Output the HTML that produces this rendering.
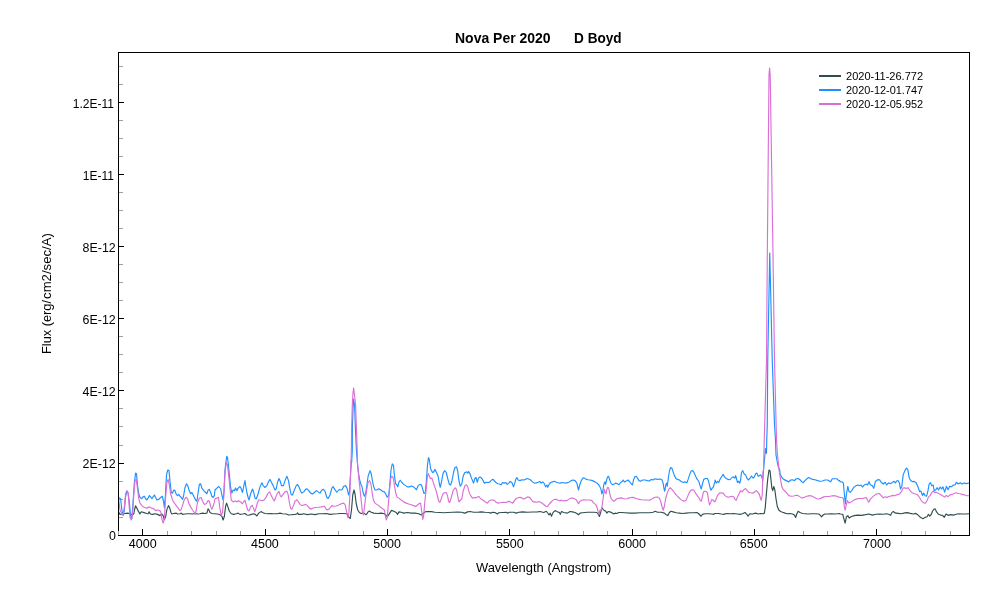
<!DOCTYPE html>
<html lang="en">
<head>
<meta charset="utf-8">
<title>Nova Per 2020 - D Boyd</title>
<style>
html,body{margin:0;padding:0;background:#fff;}
body{width:1000px;height:600px;overflow:hidden;font-family:"Liberation Sans",sans-serif;}
svg{display:block}
text{font-family:"Liberation Sans",sans-serif;fill:#000}
.tick text{font-size:12.5px}
.tick text.yt{font-size:12px}
.ttl{font-size:14px;font-weight:bold}
.ax{font-size:13px}
.lg text{font-size:11.3px}
.crv path{fill:none;stroke-width:1.15;stroke-linejoin:round;stroke-linecap:round}
</style>
</head>
<body>
<svg width="1000" height="600" viewBox="0 0 1000 600">
<rect x="0" y="0" width="1000" height="600" fill="#fff"/>
<path d="M167.5 531V535M191.5 531V535M216.5 531V535M240.5 531V535M289.5 531V535M314.5 531V535M338.5 531V535M363.5 531V535M411.5 531V535M436.5 531V535M460.5 531V535M485.5 531V535M534.5 531V535M558.5 531V535M583.5 531V535M607.5 531V535M656.5 531V535M681.5 531V535M705.5 531V535M730.5 531V535M779.5 531V535M803.5 531V535M827.5 531V535M852.5 531V535M901.5 531V535M925.5 531V535M950.5 531V535M119 517.5H123M119 499.5H123M119 481.5H123M119 445.5H123M119 426.5H123M119 408.5H123M119 372.5H123M119 354.5H123M119 336.5H123M119 300.5H123M119 282.5H123M119 264.5H123M119 228.5H123M119 210.5H123M119 192.5H123M119 156.5H123M119 138.5H123M119 120.5H123M119 84.5H123M119 66.5H123" stroke="#a0a0a0" stroke-width="1" fill="none" shape-rendering="crispEdges"/>
<path d="M142.5 529V535M265.5 529V535M387.5 529V535M509.5 529V535M632.5 529V535M754.5 529V535M876.5 529V535M119 463.5H124M119 390.5H124M119 318.5H124M119 246.5H124M119 174.5H124M119 102.5H124" stroke="#000" stroke-width="1" fill="none" shape-rendering="crispEdges"/>
<g class="crv">
<path stroke="#2F4F4F" d="M118.75 511.88 L119 512.5 L120 514.38 L122.5 514 L125 513.5 L127.5 513.12 L130 513.75 L132.5 514.75 L133.8 513.75 L134.7 509 L135.6 505.75 L137.1 508.75 L138.6 511.62 L139.9 513.88 L141.3 511.75 L144 512.62 L146.7 513.5 L148.12 513.75 L149.1 511.88 L150.25 513.75 L151.2 514.12 L152.5 514.38 L155 513.75 L157.5 514.38 L160 515.62 L161.88 514 L163.12 515.62 L164.38 519.75 L165.62 516.88 L166.88 509.38 L168.5 505.62 L169.75 508.12 L171 512.5 L171.88 514 L173.75 513.5 L176.25 513.12 L177.5 514 L180 513.75 L181.25 513.12 L182.5 514.38 L185 514 L187.5 513.75 L190 513.75 L192.5 514 L195 513.5 L197.5 514 L200 513.75 L202.5 513.12 L205 513.5 L206.88 513.12 L208.12 508.75 L209 510 L210 512.5 L211.88 513.5 L214.38 513.75 L215 513.75 L217.5 514 L220 514.75 L221.88 516.25 L223.12 520 L224.38 516.25 L225.62 506.25 L226.62 503.12 L227.88 506.88 L229.38 511.25 L231.25 513.75 L233.75 514.38 L236.25 513.75 L238.12 513.12 L240 514.38 L242.5 514 L245 513.5 L246.88 515 L248.75 515.25 L251.25 514.38 L253.75 513.75 L255.25 514.38 L256.88 516 L258.75 513.12 L261 511.62 L262.5 512.5 L265 513.5 L267.5 513.75 L270 513.5 L273.75 513.75 L277.5 513.75 L280 513.12 L282.5 513.75 L286.25 514 L288.75 515 L291.25 514.75 L295 514.38 L296.88 514 L297.5 512.75 L298.5 514.38 L301.25 514.38 L303.75 513.75 L307.5 514.62 L311.25 514 L315 514.62 L318.75 513.75 L322.5 513.75 L326.25 513.5 L330 514.38 L333.75 514 L337.5 513.75 L339.38 513.5 L340 513.5 L343.75 513.5 L346.88 513.75 L348.75 516.88 L350.25 518.5 L351.5 510 L352.75 495 L354 490 L355 493.75 L356.25 503.75 L357.75 510 L359.38 512.5 L361.25 513.5 L363.75 513.12 L366.25 514.75 L368.12 511.88 L369.38 511 L371.25 512.25 L373.75 513.12 L377.5 513.5 L381.25 513.12 L384.38 513.75 L386.88 516.25 L388.12 515.62 L389.75 513.12 L391.5 510.38 L393.75 511.25 L396.25 512.5 L397.5 514.38 L399 511.88 L401.25 512.25 L403.75 513.12 L407.5 512.5 L411.25 513.12 L415 513.12 L418.75 513.75 L421.25 515 L423.12 513.5 L425 511.88 L427.5 511.5 L431.25 511.62 L435 512.25 L440 512.5 L443.75 512.75 L447.5 512.5 L452.5 512.25 L457.5 512 L461.88 512.25 L464.38 513.12 L465 513.12 L467.5 511.88 L470 511.5 L473.75 512.25 L477.5 512.25 L481.25 511.88 L485 512.25 L488.75 512.5 L490.62 513.12 L492.5 512.25 L495 512.5 L497.25 514 L498.75 512.75 L502.5 512.5 L506.25 512.25 L507.5 513.12 L509.38 512.25 L513.75 512.25 L516.25 513.12 L518.75 512.25 L522.5 511.88 L527.5 512.25 L532.5 512 L537.5 511.88 L540 511.5 L543.75 512.5 L546.25 511.25 L547.5 512.75 L549 515 L550.25 513.12 L551.5 516.25 L552.75 513.12 L554 511.5 L555.62 510.62 L557.5 511.88 L559.38 512.5 L560.25 514.38 L561.5 511.5 L563.75 512.5 L567.5 513.12 L570 511.5 L572.5 511.88 L575 512.5 L576.88 513.5 L578.5 514.75 L580 513.12 L582.5 512.75 L585 512.5 L587.5 512.25 L589.38 512.25 L590 512.25 L593.75 512.25 L596.88 512.5 L598.12 514 L599.38 516.5 L600.62 512.5 L601.88 507.75 L603.12 509.38 L604.38 510.62 L605.62 511 L606.88 513.12 L608.12 511.5 L610 511.88 L611.88 512.75 L613.75 514 L615 513.12 L616.88 513.5 L618.75 512.5 L621.25 512.5 L625 512.75 L630 513.12 L635 513.12 L640 512.75 L645 512.75 L650 512.75 L653.12 512.25 L655.25 511.25 L657.5 512.25 L661.25 512.25 L664.38 513.12 L666.25 514.75 L667.75 515.62 L669.38 512.5 L671 511.25 L673.12 511.88 L676.25 512.75 L679.38 513.12 L682.5 513.5 L686.25 513.12 L690 512.75 L693.75 512.75 L696.88 512.5 L698.75 513.75 L701 516.25 L702.5 514.38 L705 513.75 L708.75 513.75 L711.88 514 L713.75 514.38 L714.75 513.5 L715 513.5 L718.75 513.5 L721.25 514 L723.75 514.38 L726.25 513.5 L730 513.75 L733.75 513.5 L737.5 514 L740 514.38 L742.5 513.75 L745 512.5 L746.88 514.38 L748.12 516.25 L749.75 513.75 L752.5 514 L755.62 513.12 L758.12 514 L760.62 513.5 L763.12 513.75 L764.38 513.12 L765.25 507.5 L766.5 492.5 L767.75 478.75 L769 470 L770 470.62 L771 480 L771.88 488.12 L772.75 490.62 L773.75 486.5 L774.75 489.38 L776 498.75 L777.25 506.25 L778.75 510 L780.62 511.5 L782.5 512.25 L785 513.12 L787.5 513.75 L790 513.5 L792.5 514 L794.38 515 L795.62 517.5 L796.88 513.75 L798.12 511.25 L800 512.5 L802.5 513.5 L805 513.75 L808.12 514 L811.25 513.75 L815 513.75 L818.75 514 L820.62 515.62 L821.5 516.88 L823.12 515 L825 514 L827.5 514 L831.25 513.75 L835 514 L839.75 513.5 L840 514 L842.7 514.27 L844.05 519.4 L845.13 523.18 L846.48 516.7 L847.83 515.62 L849.18 518.05 L851.48 516.43 L854.18 515.62 L857.55 515.08 L861.6 515.35 L865.65 514.68 L869.03 514 L872.4 515.08 L875.78 514.27 L879.15 514 L883.2 514.27 L886.58 513.73 L888.6 514.27 L890.63 515.35 L891.98 512.38 L893.33 511.57 L895.08 512.92 L898.05 513.33 L901.43 513.73 L904.8 512.92 L907.5 512.65 L910.2 513.33 L913.58 514 L915.6 513.33 L917.63 514.68 L919.65 516.7 L921.68 518.05 L923.03 518.73 L925.05 517.38 L927.08 516.7 L928.43 514.27 L929.78 516.03 L931.13 514.68 L932.48 511.3 L933.83 509.28 L935.18 508.87 L936.53 511.98 L938.56 514.27 L940.58 515.08 L942.61 515.35 L944.23 517.38 L945.98 514 L948.01 515.35 L950.71 514.68 L953.41 515.08 L956.11 514.27 L958.81 513.73 L961.51 514 L965.56 514 L969.2 513.73"/>
<path stroke="#1E90FF" d="M118.75 497.5 L120.62 498.75 L121.88 510 L123.12 515.62 L124.38 510 L125.62 496.25 L126.88 491.25 L128.12 493.12 L129.38 502.5 L130.62 516.25 L131.88 518.75 L133.12 501.25 L134.38 482.5 L135.62 473.12 L136.5 473.75 L137.5 485 L138.75 493.75 L140 497.5 L141.88 498.75 L143.12 496.88 L144.38 496.25 L145.62 498.75 L146.88 500 L148.12 498.12 L149.38 495.62 L150.62 496.88 L151.88 498.75 L153.12 496.88 L154.38 495 L155.62 497.5 L156.88 500 L158.75 499.38 L160.62 497.5 L162.25 496.25 L163.5 501.25 L164.38 507.5 L165.25 497.5 L166.5 475 L167.75 470 L169 470.62 L170 481.25 L171.25 492.5 L172.5 493.12 L173.75 490 L175 490.62 L176.25 494.38 L177.5 495.62 L178.75 494.38 L180 496.25 L181.25 497.5 L182.5 499.38 L183.5 496.25 L185 487.5 L186.5 483.75 L187.75 485.62 L189 490 L190.62 493.75 L191.88 492.5 L193.12 495 L194.38 497.5 L195.62 500 L196.88 501.25 L198.12 492.5 L199.38 484.38 L200.62 483.75 L201.88 488.12 L203.75 490.62 L205.62 492.5 L206.88 493.75 L208.12 490 L209.38 489.38 L210.62 492.5 L211.88 496.25 L213.12 497.5 L214.38 495.62 L215 490 L216.88 488.12 L218.75 486.5 L220.62 488.75 L221.88 495 L223.12 500 L224 491.25 L225 470 L226 461.25 L226.75 456.25 L227.5 457.5 L228.12 462.5 L229.38 475 L230.62 487.5 L231.88 493.12 L233.12 490 L234.38 490.62 L235.62 488.12 L236.88 490.62 L238.12 488.12 L240 486.5 L241.25 488.75 L242.5 492.5 L244 485 L245 480.62 L245.75 486.25 L246.88 492.5 L248.12 497.5 L249 500 L250.62 493.75 L252.5 489 L253.75 492.5 L255 498.12 L256.25 499 L258.12 493.75 L260 486.88 L261.88 482.75 L263.12 485.62 L265 487.5 L266.88 485.62 L268.75 481.25 L270 479.38 L271.5 482.5 L273.12 485.62 L275 490 L276.25 488.75 L277.5 482.5 L279 478.5 L280.25 481.25 L281.5 485.62 L283.5 485.62 L285 480.62 L286.88 476.25 L288.5 480.62 L289.75 488.12 L291.25 495 L292.5 495 L294.38 490 L296.25 485.62 L297.5 484.38 L299 486.88 L300.62 491.25 L301.88 493.12 L303.75 491.88 L305.62 489.38 L306.88 488.75 L308.75 490.62 L310.62 493.12 L312.5 494 L314.38 492.5 L316.25 490.62 L318.12 491.88 L320 493.12 L321.88 490 L323.5 489.38 L325 491.25 L326.88 497.5 L328.12 498.5 L330 495 L331.88 488.12 L333.12 486.5 L334.75 489.38 L336.88 492.25 L338.75 490 L339.75 489.38 L340 489.75 L341.88 490 L343.75 486.25 L345.62 485.62 L347.25 488.75 L348.5 495 L349.38 492.5 L350.62 472.5 L351.5 460 L351.7 462 L352.3 450 L352.4 428 L353 410 L353.6 399 L354.6 406 L355.4 428 L356.4 450 L357.2 460 L357.25 461.25 L358.12 470 L359.38 478.75 L360.62 483.75 L361.88 486.25 L363.12 492.5 L364.38 496.25 L365.62 493.75 L366.88 485 L368.12 476.25 L370 470.62 L371.25 473.75 L372.5 481.25 L373.75 486.88 L375 490 L376.88 490 L378.75 488.75 L380.62 489.75 L382.5 491.25 L384.38 491.88 L385.62 493.75 L387.25 497.25 L388.75 495 L389.75 485 L391 470 L392.25 463.75 L393.5 465.62 L394.38 475 L395.62 483.75 L396.88 485 L397.75 486.88 L399 481.88 L400.25 480.25 L401.88 482.5 L403.75 484.38 L405.62 485.62 L407.5 486.88 L409.38 486.88 L411.25 486 L413.12 486.5 L415 488.12 L416.5 489.75 L418.12 485.62 L420 484.38 L421.5 485 L422.75 489.38 L424 493.5 L425.25 492.75 L426.25 482.5 L427.5 465 L428.5 457.5 L429.38 460 L430.62 468.75 L432.5 472.5 L433.75 471.88 L435 469.38 L436.5 472.5 L438.12 476.25 L439.38 483.75 L440.25 487.25 L441.5 481.88 L443.12 473.12 L444.75 470.62 L446.25 472.5 L447.75 478.75 L449.38 484.38 L450.62 485 L451.88 481.25 L453.5 472.5 L455 467.5 L456.5 466.88 L457.75 471.25 L459 481.25 L460.25 486.25 L461.88 483.75 L463.12 476.25 L464.75 472.5 L465 472.5 L466.88 471.88 L467.75 473.12 L468.75 471.5 L470 473.75 L471.25 477.5 L472.5 480.62 L473.5 483.12 L474.75 478.75 L476 477.5 L477.25 482.25 L478.5 478.12 L480 476.88 L481.88 478.5 L483.12 480.62 L484.38 483.12 L486.25 482.25 L488.12 482.5 L490 481.88 L491.5 480 L493.12 479.38 L494.75 481.25 L496.25 482.75 L497.75 483.75 L499.38 484 L501.25 484.75 L502.5 482.5 L504 483.12 L505.62 482.5 L507.25 484.38 L508.75 483.12 L510.25 481.5 L511.88 482.5 L513.5 486.88 L514.75 483.12 L516 478.75 L516.88 477.5 L518.12 480 L520 480.62 L521.88 479.75 L523.75 480 L525.62 479.38 L526.88 478.5 L528.75 479 L530.62 480 L532.5 481.88 L534.38 483.12 L536.25 482.88 L538.12 482.25 L539.75 481.5 L541.25 483.12 L542.75 481.88 L544 483.12 L545.62 486.88 L546.88 485 L547.75 487.25 L549 484.38 L550.62 482.5 L552.5 481.88 L554.38 481.25 L556.25 482.25 L558.12 482.75 L560 483.12 L561.88 482.5 L563.75 482.75 L566.25 483.12 L568.75 482.25 L571.25 480.62 L573.12 480 L575 480.62 L576.88 483.12 L577.75 486.88 L578.5 490 L579.75 485 L581.25 480.62 L583.12 477.75 L584.38 478.12 L586.25 479.38 L588.12 479.75 L589.75 480 L590 480 L592.5 480.62 L595 481.88 L597.5 483.5 L599.38 485.62 L601 489.38 L601.88 494 L602.75 491.25 L604 483.75 L605 481.88 L605.62 484.38 L606.5 480.62 L607.5 476.88 L608.5 476.25 L609.38 478.75 L610.62 482.5 L612.25 484.75 L613.75 484.38 L615.62 483.12 L617.5 483.75 L619 484.75 L620.62 482.5 L622.25 481.5 L623.12 480 L624.38 481.88 L626.25 481 L628.12 480 L629.75 481.88 L631.25 483.75 L632.5 485 L633.5 480 L634.75 476.88 L636.25 476.25 L637.5 478.12 L639 480.62 L640.62 481.25 L642.5 480 L645 480 L647.5 480.62 L649.38 481 L651.25 479.38 L653.12 480 L655 478.75 L657.5 479.38 L660 479 L661.88 479.75 L663.12 483.12 L664 488.75 L664.75 491.25 L665.75 485 L666.5 483.12 L667.25 486.25 L668.25 478.75 L669.38 471.25 L670.62 467.5 L671.88 468.12 L673.12 471.88 L674.38 475.62 L676 478.5 L677.5 479.38 L679.38 480 L681.25 481.5 L683.12 482.5 L685 481.88 L686.88 482.75 L688.12 479.38 L689.75 474.38 L691.25 471 L692.75 470.62 L694 472.5 L695.62 476.25 L697.25 479.38 L698.75 481.25 L700 485.62 L701.25 489 L702.5 483.75 L703.75 479.38 L705.62 478.5 L707.5 478.5 L708.75 481.88 L710 487.5 L711 490.25 L712.25 488.12 L713.5 486.88 L714.38 483.12 L714.88 481.88 L715 480 L716.25 483.12 L717.5 481.25 L718.75 482.5 L720 479.38 L721.88 476.25 L723.12 474.38 L724.38 476.88 L726.25 478.5 L728.12 479.38 L730 479.75 L731.88 477.5 L733.5 476.88 L734.75 478.12 L735.62 475.62 L736.5 478.75 L737.5 482.5 L738.75 481.25 L739.75 483.12 L740.62 480 L741.5 472.5 L742.75 470.62 L744 473.75 L745.62 475 L746.88 478.12 L748.5 480 L750 478.12 L751.5 476 L753.12 478.12 L754.38 476.88 L755.62 473.75 L756.88 473.12 L758.12 476.25 L759.38 475.62 L760.62 474.75 L761.88 476.88 L762.75 480.62 L763.5 470 L764.25 462 L765.5 448.5 L766.5 453.5 L766.75 440 L767.25 425 L767.75 360 L769.75 253 L772.25 360 L774.5 425 L775.5 440 L776 455 L778 466 L779.75 470 L780 473.75 L781.88 477.5 L783.75 479.38 L786.25 480.62 L788.75 481.88 L790.62 480 L792.5 479.75 L794.38 480.62 L796.25 478.75 L798.12 478.5 L800 479.75 L801.88 481.88 L803.12 482.75 L805 480.62 L806.88 478.75 L808.75 477.5 L810.62 478.5 L812.5 479.38 L815 479.75 L817.5 480.62 L820 481.25 L822.5 481 L825 480 L827.5 480 L829.38 481 L830.62 481.88 L832.25 478.75 L834.38 478.75 L836.88 478.75 L838.75 480.62 L839.75 480.62 L840 481.6 L842.03 481.87 L843.38 482.95 L844.32 493.75 L845.4 503.88 L846.48 493.75 L847.83 486.33 L848.78 491.05 L850.13 492.4 L851.88 490.38 L853.5 487.68 L855.53 485.92 L857.55 484.98 L859.58 485.65 L860.93 484.98 L862.28 487 L864.3 484.98 L866.33 484.03 L867.68 484.98 L869.03 481.6 L870.38 484.98 L872.4 485.65 L873.75 488.35 L875.37 481.6 L877.13 479.98 L878.48 479.58 L879.83 479.98 L881.18 482.28 L883.2 484.03 L885.23 482.28 L886.58 484.98 L888.6 482.95 L890.63 483.63 L892.65 482.28 L894 481.33 L895.35 482.95 L896.7 480.93 L898.05 480.52 L899.4 482.95 L900.48 489.03 L901.83 486.33 L903.18 474.85 L904.8 470.8 L906.42 468.1 L907.77 469.45 L909.12 477.55 L910.47 480.25 L912.23 481.6 L914.25 481.33 L916.28 482.95 L918.03 487 L919.65 491.73 L921 491.05 L922.35 495.37 L923.7 493.08 L925.05 495.78 L926.67 496.18 L928.02 490.38 L929.1 484.3 L930.45 482.68 L931.81 485.65 L933.16 484.98 L934.24 490.78 L935.86 489.7 L937.21 487.68 L938.56 489.97 L940.18 487 L941.53 489.03 L942.88 486.73 L944.63 492.13 L946.39 486.33 L948.01 489.7 L949.63 486.33 L951.38 486.73 L953.41 484.98 L955.03 484.98 L956.38 482.28 L958.13 484.03 L960.16 482.68 L962.18 484.03 L964.21 482.95 L966.23 483.63 L969.2 482.95"/>
<path stroke="#DA70D6" d="M118.75 500 L120 510 L121.88 513.75 L123.12 515 L124.38 506.25 L125.62 493.75 L126.88 490.62 L128.12 492.5 L129 503.75 L130 517.5 L131.25 520 L132.5 515 L133.75 495 L135 480.62 L136.25 479.38 L137.5 488.75 L138.75 498.75 L140 503.12 L141.88 505.62 L144.38 507.5 L146.88 508.12 L149.38 506.88 L151.25 508.12 L153.75 508.75 L155.62 510.62 L157.5 510 L159.38 510.62 L160.62 511.25 L161.88 518.75 L163.12 523.12 L164.38 518.75 L165.62 497.5 L166.88 482.5 L168.12 479.38 L169.38 485 L170.62 493.75 L172.5 500 L174.38 503.12 L176.25 505.62 L178.12 508.12 L180 510.62 L181.25 509.38 L182.5 505.62 L184.38 499.38 L186.25 497.25 L187.5 498.75 L188.75 503.12 L190.62 506.88 L192.5 510 L194.38 512.5 L195.25 514.38 L196.25 510 L197.5 502.5 L199.38 498.12 L201.25 497.5 L202.5 501.25 L204.38 504.38 L206.25 503.75 L208.12 500.62 L209.38 501.25 L210.62 506.25 L211.88 509.38 L213.12 506.25 L214.38 501.88 L215 498.75 L216.88 498.12 L218.5 497.25 L219.75 507.5 L221.25 515.62 L222.5 512.5 L223.75 497.5 L225 472.5 L226.25 462.5 L227.5 465 L228.75 476.25 L230 488.75 L231.25 500 L233.12 501.88 L235 501 L236.88 501.88 L238.12 500.62 L239.38 501.25 L241.25 502.5 L242.5 503.75 L244 501.25 L245 500.25 L246.25 505 L247.75 510 L249 511 L250.62 506.88 L252.25 505.25 L253.5 508.12 L254.75 511.88 L256 508.12 L257.5 502.5 L259 499.75 L260.62 500.25 L262.5 500.62 L264.38 499.75 L266.25 496.88 L268.12 493.12 L269.75 491.88 L271 495 L272.5 498.12 L274.38 501 L275.62 497.5 L277.5 493.12 L279 491.5 L280.25 495.62 L281.25 496.88 L283.12 494.38 L285 491.88 L286.88 491.25 L288.12 494.38 L289.38 502.5 L290.62 508.12 L291.88 509.38 L293.5 505.62 L295 501.25 L296.88 499.75 L298.5 501.88 L300 504.38 L301.88 505.62 L303.75 505 L305.62 504.38 L307.5 505.62 L309.38 508.12 L311.25 509.12 L313.75 507.75 L316.25 507.5 L318.75 507.25 L321.25 506.88 L324.38 506.25 L326.25 509.38 L327.5 510 L329.38 508.75 L331.88 505.62 L333.75 506.25 L336.25 506 L338.75 505 L339.75 504.38 L340 504.38 L341.88 503.5 L343.75 503.12 L345.25 505 L346.5 511.25 L347.75 517.75 L348.75 515 L349.75 497.5 L350.62 472.5 L351 460 L351 462 L351.4 450 L351.6 428 L352.3 405 L353 393 L353.6 388 L354.3 393 L355.6 405 L356.4 428 L357.2 450 L357.5 460 L357.38 461.25 L357.75 466.25 L358.75 477.5 L360 488.75 L361.25 501.25 L362.5 512.5 L363.5 515 L364.38 507.5 L365.62 497.5 L366.88 488.75 L368.12 482.5 L369.62 480.62 L370.88 483.75 L372.12 492.5 L373.38 500 L375 503.12 L376.88 504.38 L378.75 505.62 L380.62 507.25 L382.5 508.75 L384.38 510 L385.25 515 L386.25 520 L387.25 517.5 L388.12 507.5 L389.38 491.25 L390.62 478.75 L391.88 476.25 L393.12 477.5 L394.38 485 L395.62 492.5 L396.88 496.88 L398.75 498.12 L401.25 500 L403.75 501.88 L406.25 503.12 L408.75 504 L411.25 504.75 L413.75 505.62 L415.62 506.5 L417.5 505 L419.38 503.5 L420.62 503.12 L421.5 510 L422.75 519.38 L423.75 515 L424.75 502.5 L426 491.25 L427.25 477.5 L428.25 473.5 L429.38 476.25 L430.62 478.75 L431.88 478.12 L433.12 481.88 L434.75 486.88 L436.25 491.25 L437.5 496.25 L438.75 501.25 L439.75 502.5 L441.25 498.75 L442.75 494.38 L444.38 492.75 L446.25 492.5 L447.5 495.62 L448.75 501.88 L449.75 502.5 L451.25 497.5 L453.12 490.62 L455 487.75 L456.5 489.38 L457.75 496.25 L459 501.88 L460.62 500 L461.88 498.75 L463.12 491.25 L464.75 486.25 L465 485.62 L466.5 484.75 L467.75 486.88 L469 491.88 L470.62 495.62 L472.5 498.12 L474.38 497.5 L476.25 497.88 L477.5 496.88 L479 496.5 L480.62 498.75 L482.5 499.75 L484.38 501.25 L486.25 502.5 L487.5 503.12 L489 501 L490.62 500.25 L492.5 499.75 L494.38 500.62 L496.25 502.25 L498.12 503.12 L500 502.75 L501.88 502.5 L503.75 502.25 L505.62 502.5 L507.5 501.88 L509.38 501.25 L511.25 502.5 L512.75 503.12 L514.38 500.62 L516.25 498.5 L518.12 497.75 L520 497.25 L521.88 498.12 L523.75 499 L525.62 498.12 L527.5 496.88 L529.38 497.25 L531.25 499.38 L533.12 501.88 L535 501.88 L536.88 502.25 L538.75 501.5 L540.62 502.25 L542.5 503.5 L544.38 505 L546 506.25 L547.5 506.5 L549 504.38 L550.62 502.5 L552.5 500.62 L554.38 499.38 L556.25 499.38 L558.12 500.25 L560 501 L561.25 500 L563.12 501 L565 500.62 L566.88 500.62 L568.75 499.38 L570.62 498.12 L572.5 498.12 L574.38 498.75 L576.25 499.75 L577.5 501.88 L578.5 503.75 L580 501.25 L581.88 500.25 L583.75 499.75 L585.62 500 L587.5 500 L589.75 500 L590 500 L591.88 500.62 L593.75 503.12 L595.62 504.38 L596.88 506.88 L598.12 511.88 L599 514.38 L600 510 L601 511.25 L601.88 507.5 L602.75 501.25 L603.75 493.75 L604.38 489.38 L605.25 492.5 L606 493.75 L606.88 489.38 L607.75 487.25 L608.75 488.12 L609.75 493.75 L611 498.12 L612.5 500.25 L614 501.25 L615.62 499.75 L617.5 498.5 L619.38 498.12 L621.25 497.88 L623.12 498.5 L625 499 L626.88 498.75 L628.75 498.12 L630.62 497.5 L633.12 497.25 L635 498.12 L636.88 498.75 L639.38 499.38 L641.88 499.75 L644.38 500 L646.88 500 L649.38 500.25 L651.25 499.38 L653.12 498.12 L655 497.25 L657.5 497 L659.38 498.12 L660.62 501.25 L661.88 506.25 L663.12 510.25 L664.38 506.25 L665.62 498.75 L667.25 493.12 L668.75 489.38 L670.25 487.75 L671.88 489.38 L673.5 491.25 L675 493.5 L676.88 495.62 L678.75 497.5 L680.62 499.38 L682.5 500.62 L684.38 501.25 L686 500.25 L687.5 496.88 L689 493.12 L690.62 490.62 L692.25 489.75 L693.75 490 L695.62 493.12 L697.25 495.62 L698.75 497.5 L700.25 500.62 L701.25 501.25 L702.5 496.25 L703.5 491.88 L704.75 491.25 L706.25 491.5 L707.5 493.12 L708.5 500 L709.5 505 L710.62 502.5 L711.88 499.38 L713.12 500.25 L714.75 501.88 L715 501.88 L716.25 498.75 L717.5 495.62 L719.38 493.12 L721.25 492.75 L723.12 493.12 L725 495.62 L726.88 496.88 L728.75 497.25 L730.62 496.5 L732.5 496.25 L734 497.25 L735.25 499.75 L736.25 500.25 L737.5 496.88 L739 493.75 L740.62 490.62 L742.25 491.88 L743.75 489.75 L745.62 488.5 L747.25 490.62 L748.75 492.25 L750.62 492.75 L752.5 493.12 L754.38 492.25 L756.25 490.62 L757.75 491.88 L759.38 494.38 L760.25 497.5 L761.25 500.25 L762.25 495 L762.88 472.5 L763.5 470 L764.25 440 L766.5 360 L767.3 255 L769 75 L769.6 68 L770.2 75 L773 255 L774.5 360 L776.5 440 L777.5 455 L779 470 L780.62 480 L781.88 486.88 L783.12 489.38 L785 491.25 L786.88 493.12 L788.75 495.62 L791.25 496.25 L793.75 496 L796.25 495.25 L798.12 495.62 L800 496.88 L801.88 498.12 L804.38 497.25 L806.88 496.25 L809.38 495.62 L811.88 496 L814.38 497.5 L816.88 498.75 L818.75 499 L821.25 498.12 L823.75 496.88 L826.25 496.5 L828.75 496.5 L831.25 496 L833.75 495.62 L836.25 496 L838.12 496.88 L839.75 497.25 L840 497.53 L842.03 497.53 L843.38 498.48 L844.32 506.58 L845.13 510.22 L846.21 505.23 L847.43 500.5 L848.78 502.93 L850.8 502.12 L853.5 500.23 L856.2 499.15 L858.9 498.48 L861.6 498.48 L864.3 498.07 L866.33 497.53 L867.68 500.5 L868.76 502.12 L870.38 499.15 L872.4 497.13 L874.43 495.37 L876.45 494.02 L879.15 493.48 L881.18 495.37 L883.2 497.8 L885.23 496.72 L886.98 497.53 L888.6 496.45 L890.63 496.18 L892.65 495.37 L894.68 495.78 L896.7 494.83 L899.4 494.02 L901.43 491.73 L902.78 488.35 L904.13 487.68 L906.15 488.35 L908.18 487.68 L909.53 489.97 L911.55 492.4 L913.58 493.48 L915.6 494.02 L917.63 494.83 L919.65 497.8 L921.68 501.18 L923.7 502.93 L925.32 503.2 L927.08 500.5 L928.43 497.13 L930.18 495.37 L931.54 493.08 L932.89 491.05 L934.51 492.4 L936.53 492.4 L938.56 493.48 L940.58 494.43 L942.61 495.78 L944.63 497.13 L946.39 495.37 L948.01 496.72 L950.03 494.83 L952.06 494.43 L954.08 493.48 L956.11 492.81 L958.13 493.48 L960.16 493.75 L962.18 494.43 L964.21 494.83 L966.91 495.78 L969.2 495.78"/>
</g>
<rect x="118.5" y="52.5" width="851.0" height="483.0" fill="none" stroke="#000" stroke-width="1" shape-rendering="crispEdges"/>
<path d="M118.5 531V535" stroke="#a0a0a0" stroke-width="1" shape-rendering="crispEdges"/>
<g class="tick">
<text x="142.7" y="548" text-anchor="middle">4000</text>
<text x="264.9" y="548" text-anchor="middle">4500</text>
<text x="387.1" y="548" text-anchor="middle">5000</text>
<text x="509.8" y="548" text-anchor="middle">5500</text>
<text x="632.1" y="548" text-anchor="middle">6000</text>
<text x="753.7" y="548" text-anchor="middle">6500</text>
<text x="877.0" y="548" text-anchor="middle">7000</text>
<text x="115.9" y="540.45" text-anchor="end" style="font-size:12.4px">0</text>
<text x="115.7" y="468.45" text-anchor="end" style="font-size:12.4px">2E-12</text>
<text x="115.7" y="396.45" text-anchor="end" style="font-size:12.4px">4E-12</text>
<text x="115.7" y="324.45" text-anchor="end" style="font-size:12.4px">6E-12</text>
<text x="115.7" y="252.45" text-anchor="end" style="font-size:12.4px">8E-12</text>
<text x="113.9" y="180.45" text-anchor="end" style="font-size:12px">1E-11</text>
<text x="113.9" y="108.45" text-anchor="end" style="font-size:12px">1.2E-11</text>
</g>
<text class="ttl" x="455" y="42.8" textLength="95.6" lengthAdjust="spacingAndGlyphs">Nova Per 2020</text>
<text class="ttl" x="574.1" y="42.8" textLength="47.5" lengthAdjust="spacingAndGlyphs">D Boyd</text>
<text class="ax" x="543.7" y="571.5" text-anchor="middle" textLength="135.5" lengthAdjust="spacingAndGlyphs">Wavelength (Angstrom)</text>
<text class="ax" transform="translate(50.5 354) rotate(-90)"><tspan x="0" textLength="54" lengthAdjust="spacingAndGlyphs">Flux (erg/</tspan><tspan x="55.1" textLength="65.7" lengthAdjust="spacingAndGlyphs">cm2/sec/A)</tspan></text>
<g class="lg">
<path d="M819 76H841" stroke="#2F4F4F" stroke-width="2" shape-rendering="crispEdges"/>
<path d="M819 90H841" stroke="#1E90FF" stroke-width="2" shape-rendering="crispEdges"/>
<path d="M819 104H841" stroke="#DA70D6" stroke-width="2" shape-rendering="crispEdges"/>
<text x="846" y="80.3" textLength="77.1" lengthAdjust="spacingAndGlyphs">2020-11-26.772</text>
<text x="846" y="94.3" textLength="77.1" lengthAdjust="spacingAndGlyphs">2020-12-01.747</text>
<text x="846" y="108.3" textLength="77.1" lengthAdjust="spacingAndGlyphs">2020-12-05.952</text>
</g>
</svg>
</body>
</html>
